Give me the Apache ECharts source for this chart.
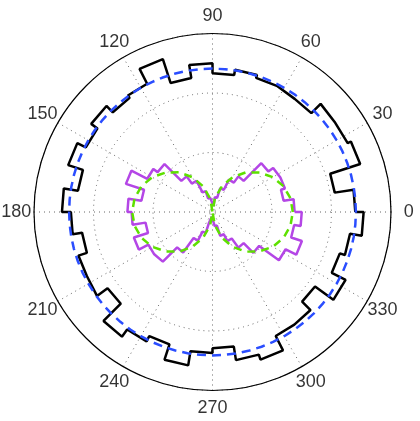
<!DOCTYPE html>
<html>
<head>
<meta charset="utf-8">
<script src="https://cdn.jsdelivr.net/npm/echarts@6/dist/echarts.min.js"></script>
<style>
  html, body { margin: 0; padding: 0; background: #fff; }
  #polar-chart { width: 420px; height: 421px; }
</style>
</head>
<body>
<div id="polar-chart"></div>
<script>
// 40 bins of 9 degrees, bin k covers [9k, 9k+9]
const binWidth = 9;
const blackCounts = [
  24.0, 20.8, 26.1, 25.5, 25.7, 23.5, 23.8, 23.7, 24.2, 23.3,
  25.0, 22.8, 27.0, 24.2, 23.7, 25.2, 23.9, 25.5, 22.9, 25.3,
  23.8, 22.2, 23.7, 24.0, 21.8, 25.9, 24.4, 23.4, 26.1, 23.7,
  22.9, 25.2, 26.1, 23.4, 23.3, 21.3, 25.1, 22.5, 23.4, 25.4
];
const magentaCounts = [
  13.8, 12.1, 12.8, 12.6, 11.6, 7.4, 6.1, 4.2, 2.5, 1.0,
  0.8, 2.4, 3.7, 5.9, 7.4, 11.4, 12.3, 15.3, 12.1, 14.3,
  13.6, 11.4, 13.9, 12.1, 11.8, 8.4, 5.4, 3.7, 2.0, 0.8,
  0.7, 2.4, 4.2, 5.5, 7.4, 9.7, 13.8, 15.8, 13.9, 15.0
];
const meanLevel = 24.1;
// green curve sampled every 10 degrees
const greenAngles = [
  0, 10, 20, 30, 40, 50, 60, 70, 80, 90, 100, 110, 120, 130, 140, 150, 160, 170, 180,
  190, 200, 210, 220, 230, 240, 250, 260, 270, 280, 290, 300, 310, 320, 330, 340, 350, 360
];
const greenValues = [
  13.5, 13.3, 12.7, 11.7, 10.3, 8.7, 6.75, 4.6, 2.3, 0, 2.3, 4.6, 6.75, 8.7, 10.3, 11.7, 12.7, 13.3, 13.5,
  13.3, 12.7, 11.7, 10.3, 8.7, 6.75, 4.6, 2.3, 0, 2.3, 4.6, 6.75, 8.7, 10.3, 11.7, 12.7, 13.3, 13.5
];
const tickAngles = [0, 30, 60, 90, 120, 150, 180, 210, 240, 270, 300, 330];
const tickLabels = ['0', '30', '60', '90', '120', '150', '180', '210', '240', '270', '300', '330'];
const rMax = 30;

function stairs(counts) {
  const pts = [];
  counts.forEach((r, i) => {
    pts.push([r, i * binWidth]);
    pts.push([r, (i + 1) * binWidth]);
  });
  pts.push(pts[0]);
  return pts;
}

const circlePts = [];
for (let a = 0; a <= 360; a += 5) circlePts.push([meanLevel, a]);

const chart = echarts.init(document.getElementById('polar-chart'));
chart.setOption({
  animation: false,
  backgroundColor: '#fff',
  polar: { center: [212.5, 212], radius: 178.5 },
  angleAxis: {
    type: 'value', min: 0, max: 360, interval: 30,
    startAngle: 0, clockwise: false,
    axisLine: { lineStyle: { color: '#000', width: 1.2 } },
    axisTick: { show: false },
    axisLabel: { show: false },
    splitLine: { show: true, lineStyle: { color: '#666', width: 1, type: [1, 4] } }
  },
  radiusAxis: {
    type: 'value', min: 0, max: rMax, interval: 10,
    axisLine: { show: false },
    axisTick: { show: false },
    axisLabel: { show: false },
    splitLine: { show: true, lineStyle: { color: '#666', width: 1, type: [1, 4] } }
  },
  series: [
    {
      type: 'line', coordinateSystem: 'polar', data: stairs(blackCounts),
      symbol: 'none', lineStyle: { color: '#000', width: 2.5 }
    },
    {
      type: 'line', coordinateSystem: 'polar', data: circlePts,
      symbol: 'none', lineStyle: { color: '#2a4dff', width: 2.5, type: [9, 6] }
    },
    {
      type: 'line', coordinateSystem: 'polar', data: stairs(magentaCounts),
      symbol: 'none', lineStyle: { color: '#b446e6', width: 2.5 }
    },
    {
      type: 'line', coordinateSystem: 'polar',
      data: greenAngles.map((a, i) => [greenValues[i], a]),
      symbol: 'none', lineStyle: { color: '#5ee000', width: 2.5, type: [8, 6] }
    },
    {
      type: 'scatter', coordinateSystem: 'polar', clip: false, silent: true,
      data: tickAngles.map(a => [rMax * 1.1, a]),
      symbolSize: 2, itemStyle: { color: 'rgba(0,0,0,0)' },
      label: {
        show: true, position: 'inside',
        formatter: p => tickLabels[p.dataIndex],
        color: '#000', fontSize: 18, fontFamily: 'Liberation Sans, Arial, sans-serif'
      },
      labelLayout: { hideOverlap: false }
    }
  ]
});
</script>
</body>
</html>
